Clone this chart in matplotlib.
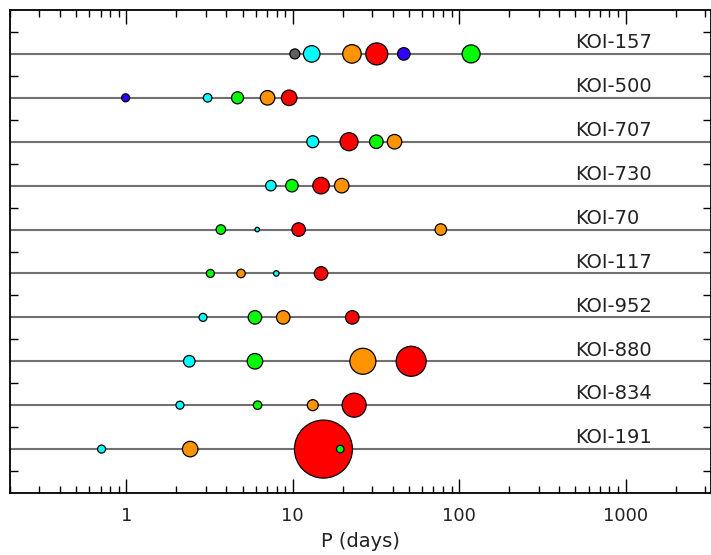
import matplotlib
matplotlib.use('Agg')
import matplotlib.pyplot as plt
import numpy as np

# systems, from bottom row to top row
systems = ['KOI-191', 'KOI-834', 'KOI-880', 'KOI-952', 'KOI-117',
           'KOI-70', 'KOI-730', 'KOI-707', 'KOI-500', 'KOI-157']

# orbital periods (days)
periods = [
    [0.71, 2.42, 15.3, 19.3],
    [2.10, 6.15, 13.2, 23.4],
    [2.39, 5.93, 26.4, 51.5],
    [2.89, 5.93, 8.77, 22.8],
    [3.20, 4.89, 7.96, 14.8],
    [3.70, 6.12, 10.85, 77.6],
    [7.39, 9.89, 14.8, 19.7],
    [13.2, 21.8, 31.8, 40.9],
    [0.99, 3.08, 4.66, 7.06, 9.52],
    [10.3, 13.0, 22.7, 32.0, 46.5, 118.0],
]

radii = [
    [1.6, 3.1, 11.6, 1.5],
    [1.6, 1.7, 2.2, 4.8],
    [2.3, 3.1, 5.2, 6.0],
    [1.6, 2.7, 2.7, 2.7],
    [1.6, 1.7, 1.1, 2.7],
    [1.9, 0.9, 2.7, 2.3],
    [2.1, 2.5, 3.3, 2.9],
    [2.4, 3.6, 2.7, 2.9],
    [1.6, 1.7, 2.4, 2.9, 3.1],
    [2.0, 3.3, 3.7, 4.4, 2.5, 3.6],
]

# colour class of each planet
classes = [
    ['c', 'o', 'r', 'g'],
    ['c', 'g', 'o', 'r'],
    ['c', 'g', 'o', 'r'],
    ['c', 'g', 'o', 'r'],
    ['g', 'o', 'c', 'r'],
    ['g', 'c', 'r', 'o'],
    ['c', 'g', 'r', 'o'],
    ['c', 'r', 'g', 'o'],
    ['b', 'c', 'g', 'o', 'r'],
    ['k', 'c', 'o', 'r', 'b', 'g'],
]

palette = {'c': '#00ffff', 'g': '#00ff00', 'o': '#ff9400', 'r': '#ff0000',
           'b': '#3300ff', 'k': '#606060'}

W, H = 711, 555
fig = plt.figure(figsize=(W / 100, H / 100), dpi=100)
ax = fig.add_axes([10 / W, (H - 493) / H, (W - 10) / W, 483 / H])

pt_per_re = 3.6  # marker diameter in points per Earth radius
for i, name in enumerate(systems):
    ax.axhline(i, color='#707070', lw=1.5, zorder=1)
    cols = [palette[c] for c in classes[i]]
    s = (pt_per_re * np.array(radii[i])) ** 2
    ax.scatter(periods[i], [i] * len(periods[i]), s=s, c=cols,
               edgecolors='black', linewidths=0.9, zorder=3)
    ax.text(500, i + 0.04, name, fontsize=14, color='#222222',
            ha='left', va='bottom')

ax.set_xscale('log')
ax.set_xlim(0.2, 3263)
ax.set_ylim(-1, 10)

ax.set_xticks([1, 10, 100, 1000])
ax.set_xticklabels(['1', '10', '100', '1000'])
ax.set_yticks(np.arange(-0.5, 10, 1.0))
ax.set_yticklabels([])
ax.tick_params(axis='x', which='major', direction='in', length=10, width=1,
               top=True, labelsize=13, pad=10, labelcolor='#222222')
ax.tick_params(axis='x', which='minor', direction='in', length=5, width=1,
               top=True)
ax.tick_params(axis='y', which='major', direction='in', length=6, width=1,
               right=True)
ax.tick_params(axis='y', which='minor', left=False, right=False)
for sp in ax.spines.values():
    sp.set_linewidth(1.3)

ax.set_xlabel('P (days)', fontsize=14, color='#222222', labelpad=5)

fig.savefig('out.png', dpi=100)
